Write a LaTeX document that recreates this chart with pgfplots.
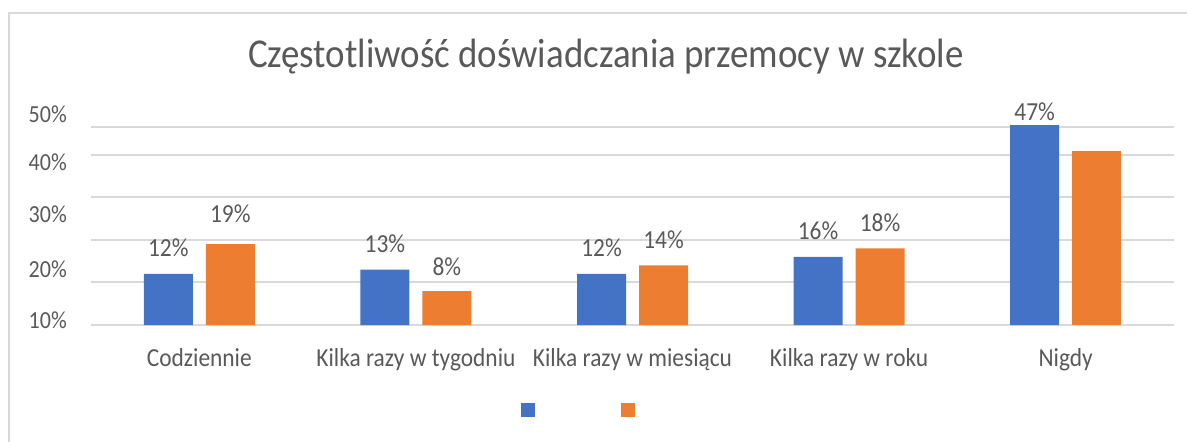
\documentclass[border=0pt]{standalone}
\usepackage{fontspec}
\setmainfont{Carlito}[FakeStretch=0.9]
\usepackage{pgfplots}
\usepackage{pgfplotstable}
\pgfplotsset{compat=1.18}
\definecolor{cblue}{HTML}{4472C4}
\definecolor{corange}{HTML}{ED7D31}
\definecolor{ctext}{HTML}{595959}
\definecolor{cgrid}{HTML}{D9D9D9}

\pgfplotstableread{
x y off
0 12 17
1 13 17
2 12 17
3 16 17
4 47 5
}\blueTab
\pgfplotstableread{
x y off
0 19 21.7
1 8 16
2 14 16.7
3 18 17
}\orangeTab
\pgfplotstableread{
x y
4 41
}\orangeNoLab

\begin{document}
\begin{tikzpicture}
\useasboundingbox (-91pt,-108.5pt) rectangle (1096pt,333.5pt);
\begin{axis}[
  at={(0pt,0pt)}, anchor=south west,
  x=216.6pt, y=4.25pt,
  xmin=-0.5, xmax=4.5, ymin=-2, ymax=50,
  /pgf/number format/assume math mode=true,
  axis line style={draw=none},
  major tick length=0pt,
  tick style={draw=none},
  xtick={0,1,2,3,4},
  xticklabels={Codziennie, Kilka razy w tygodniu, Kilka razy w miesiącu, Kilka razy w roku, Nigdy},
  xticklabel style={anchor=base, yshift=-32.5pt, font=\fontsize{26}{30}\selectfont, text=ctext, inner sep=0pt},
  ytick={-0.94,11.29,24.0,36.47,47.76},
  yticklabels={10\%,20\%,30\%,40\%,50\%},
  yticklabel style={anchor=base east, xshift=-24pt, font=\fontsize{24.5}{28}\selectfont, text=ctext, inner sep=0pt},
  extra y ticks={0,10,20,30,40,46.7},
  extra y tick labels={},
  extra y tick style={grid=major},
  major grid style={draw=cgrid, line width=2pt},
  title={Częstotliwość doświadczania przemocy w szkole},
  title style={at={(0.4755,1.1787)}, anchor=base, font=\fontsize{41}{46}\selectfont, text=ctext, inner sep=0pt},
  legend style={at={(axis cs:1.758,-20)}, anchor=center, draw=none, fill=none, legend columns=2,
    /tikz/every even column/.append style={column sep=82pt}, font=\fontsize{24}{28}\selectfont},
  nodes near coords style={anchor=base, inner sep=0pt, font=\fontsize{26}{30}\selectfont, text=ctext},
]
\addplot[ybar, bar width=49pt, bar shift=-31pt, fill=cblue, draw=none,
  point meta=y,
  visualization depends on={\thisrow{off}\as\myoff},
  nodes near coords={\pgfmathprintnumber{\pgfplotspointmeta}\%},
  nodes near coords style={anchor=base, yshift=\myoff pt, xshift=-31pt},
  legend image code/.code={\fill[cblue] (0pt,-7pt) rectangle (14pt,7pt);}]
  table[x=x,y=y]{\blueTab};
\addlegendentry{}
\addplot[ybar, bar width=49pt, bar shift=31pt, fill=corange, draw=none,
  point meta=y,
  visualization depends on={\thisrow{off}\as\myoff},
  nodes near coords={\pgfmathprintnumber{\pgfplotspointmeta}\%},
  nodes near coords style={anchor=base, yshift=\myoff pt, xshift=31pt},
  legend image code/.code={\fill[corange] (0pt,-7pt) rectangle (14pt,7pt);}]
  table[x=x,y=y]{\orangeTab};
\addlegendentry{}
\addplot[ybar, bar width=49pt, bar shift=31pt, fill=corange, draw=none, forget plot]
  table[x=x,y=y]{\orangeNoLab};
\end{axis}
\draw[cgrid, line width=2pt] (-81.5pt,-108.5pt) -- (-81.5pt,320.5pt) -- (1096pt,320.5pt);
\end{tikzpicture}
\end{document}
